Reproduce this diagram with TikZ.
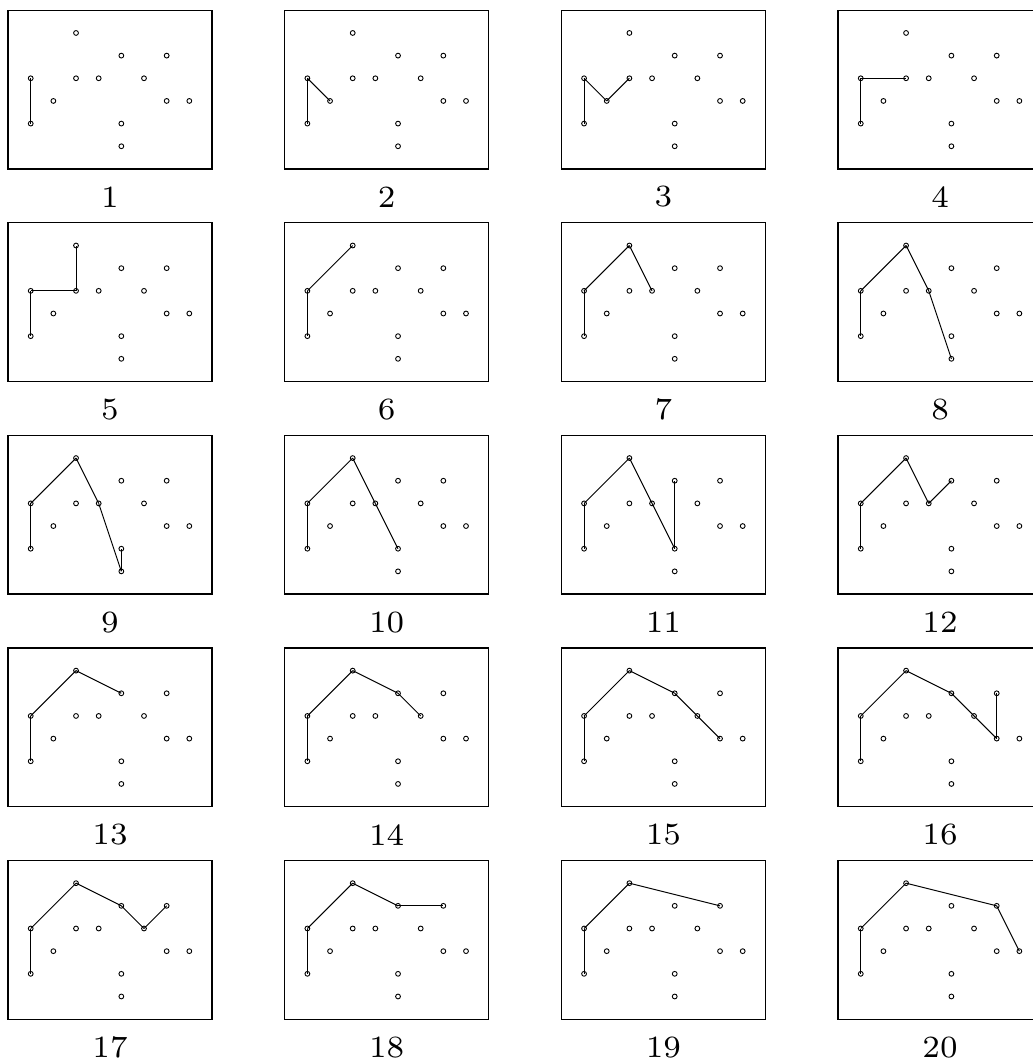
\documentclass[tikz,border=0pt]{standalone}
\usepackage{tikz}
\usetikzlibrary{positioning,calc}

\begin{document}
\begin{tikzpicture}[
  x=0.4cm, y=0.4cm,
  frame/.style={draw, line width=0.6pt},
  pt/.style={circle, draw, line width=0.45pt, inner sep=0pt, minimum size=0.085cm},
  hull/.style={line width=0.5pt},
  num/.style={font=\scriptsize, scale=2.22}
]
\useasboundingbox (-1.355,-41.50) rectangle (44.23,5.455);
\foreach \n/\hull in {1/{d}, 2/{d,h}, 3/{d,h,e}, 4/{d,e}, 5/{d,e,a},
    6/{d,a}, 7/{d,a,f}, 8/{d,a,f,m}, 9/{d,a,f,m,l}, 10/{d,a,f,l},
    11/{d,a,f,l,b}, 12/{d,a,f,b}, 13/{d,a,b}, 14/{d,a,b,g}, 15/{d,a,b,g,i},
    16/{d,a,b,g,i,c}, 17/{d,a,b,g,c}, 18/{d,a,b,c}, 19/{d,a,c}, 20/{d,a,c,j}} {
  \pgfmathtruncatemacro\col{mod(\n-1,4)}
  \pgfmathtruncatemacro\row{(\n-1)/4}
  \begin{scope}[shift={(12.21*\col,-9.38*\row)}]
    \draw[frame] (-1,-2) rectangle (8,5);
    \node[num] (num\n) at (3.5,-3.24) {\n};
    \foreach \p/\x/\y in {a/2/4, b/4/3, c/6/3, d/0/2, e/2/2, f/3/2, g/5/2,
        h/1/1, i/6/1, j/7/1, k/0/0, l/4/0, m/4/-1}
      \node[pt] (p\n-\p) at (\x,\y) {};
    \foreach \u [remember=\u as \v (initially k)] in \hull
      \draw[hull] (p\n-\v.center) -- (p\n-\u.center);
  \end{scope}
}
\end{tikzpicture}
\end{document}
